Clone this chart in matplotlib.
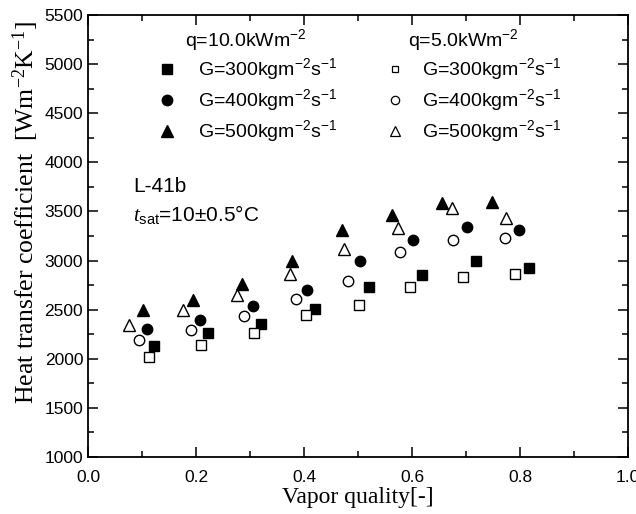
import matplotlib
matplotlib.use('Agg')
import matplotlib.pyplot as plt
from matplotlib.ticker import MultipleLocator

plt.rcParams['font.family'] = 'Liberation Sans'
plt.rcParams['mathtext.fontset'] = 'custom'
plt.rcParams['mathtext.rm'] = 'Liberation Sans'
plt.rcParams['mathtext.it'] = 'Liberation Serif:italic'

# q = 10.0 kW/m2
x10_300 = [0.123, 0.222, 0.321, 0.420, 0.520, 0.619, 0.718, 0.817]
h10_300 = [2133, 2262, 2357, 2510, 2727, 2857, 3000, 2924]
x10_400 = [0.109, 0.208, 0.306, 0.405, 0.504, 0.602, 0.701, 0.799]
h10_400 = [2299, 2391, 2534, 2701, 2992, 3214, 3339, 3306]
x10_500 = [0.102, 0.194, 0.286, 0.378, 0.471, 0.563, 0.656, 0.748]
h10_500 = [2493, 2595, 2762, 3000, 3312, 3462, 3591, 3601]

# q = 5.0 kW/m2
x5_300 = [0.113, 0.210, 0.307, 0.404, 0.501, 0.597, 0.695, 0.791]
h5_300 = [2014, 2139, 2265, 2446, 2544, 2734, 2832, 2860]
x5_400 = [0.094, 0.191, 0.288, 0.386, 0.482, 0.578, 0.675, 0.773]
h5_400 = [2194, 2289, 2432, 2612, 2796, 3084, 3214, 3230]
x5_500 = [0.075, 0.175, 0.275, 0.374, 0.474, 0.574, 0.674, 0.774]
h5_500 = [2340, 2497, 2653, 2864, 3118, 3332, 3540, 3434]

G_labels = ['G=300kgm$\\mathregular{^{-2}}$s$\\mathregular{^{-1}}$',
            'G=400kgm$\\mathregular{^{-2}}$s$\\mathregular{^{-1}}$',
            'G=500kgm$\\mathregular{^{-2}}$s$\\mathregular{^{-1}}$']
q_labels = ['q=10.0kWm$\\mathregular{^{-2}}$', 'q=5.0kWm$\\mathregular{^{-2}}$']

fig = plt.figure(figsize=(6.36, 5.14), dpi=100)
ax = fig.add_axes([88/636, 57/514, 540/636, 442/514])

ms = {'s': 6.5, 'o': 7.5, '^': 8}
filled = [(x10_300, h10_300, 's'), (x10_400, h10_400, 'o'), (x10_500, h10_500, '^')]
hollow = [(x5_300, h5_300, 's'), (x5_400, h5_400, 'o'), (x5_500, h5_500, '^')]
for x, h, m in filled:
    ax.plot(x, h, ls='none', marker=m, ms=ms[m], color='black')
for x, h, m in hollow:
    ax.plot(x, h, ls='none', marker=m, ms=ms[m], mfc='white', mec='black', mew=1.0)

ax.set_xlim(0, 1.0)
ax.set_ylim(1000, 5500)
ax.xaxis.set_major_locator(MultipleLocator(0.2))
ax.xaxis.set_minor_locator(MultipleLocator(0.1))
ax.yaxis.set_major_locator(MultipleLocator(500))
ax.yaxis.set_minor_locator(MultipleLocator(250))
ax.xaxis.set_major_formatter(lambda v, p: f'{v:.1f}')
ax.tick_params(which='both', direction='in', top=True, right=True, labelsize=12.5, width=1.1)
ax.tick_params(which='major', length=7)
ax.tick_params(which='minor', length=4)
ax.tick_params(axis='x', pad=9)
for s in ax.spines.values():
    s.set_linewidth(1.3)

ax.set_xlabel('Vapor quality[-]', family='Liberation Serif', fontsize=17, labelpad=2)
ax.set_ylabel('Heat transfer coefficient  [Wm$\\mathregular{^{-2}}$K$\\mathregular{^{-1}}$]',
              family='Liberation Serif', fontsize=18.5)
ax.yaxis.set_label_coords(-0.087, 0.554)

# legend built by hand
rows = [0.878, 0.808, 0.738]
ax.text(0.180, 0.943, q_labels[0], transform=ax.transAxes, fontsize=14, va='center')
ax.text(0.593, 0.943, q_labels[1], transform=ax.transAxes, fontsize=14, va='center')
for y, m, lab in zip(rows, ['s', 'o', '^'], G_labels):
    ax.plot([0.146], [y], transform=ax.transAxes, ls='none', marker=m, ms=ms[m], color='black')
    ax.plot([0.569], [y], transform=ax.transAxes, ls='none', marker=m, ms=ms[m] - 1.5,
            mfc='white', mec='black', mew=0.9)
    ax.text(0.204, y, lab, transform=ax.transAxes, fontsize=14, va='center')
    ax.text(0.619, y, lab, transform=ax.transAxes, fontsize=14, va='center')

ax.text(0.083, 0.611, 'L-41b', transform=ax.transAxes, fontsize=15, va='center')
ax.text(0.083, 0.548, '$\\mathit{t}_\\mathregular{sat}$=10±0.5°C', transform=ax.transAxes,
        fontsize=15, va='center')

fig.savefig('out.png', dpi=100)
